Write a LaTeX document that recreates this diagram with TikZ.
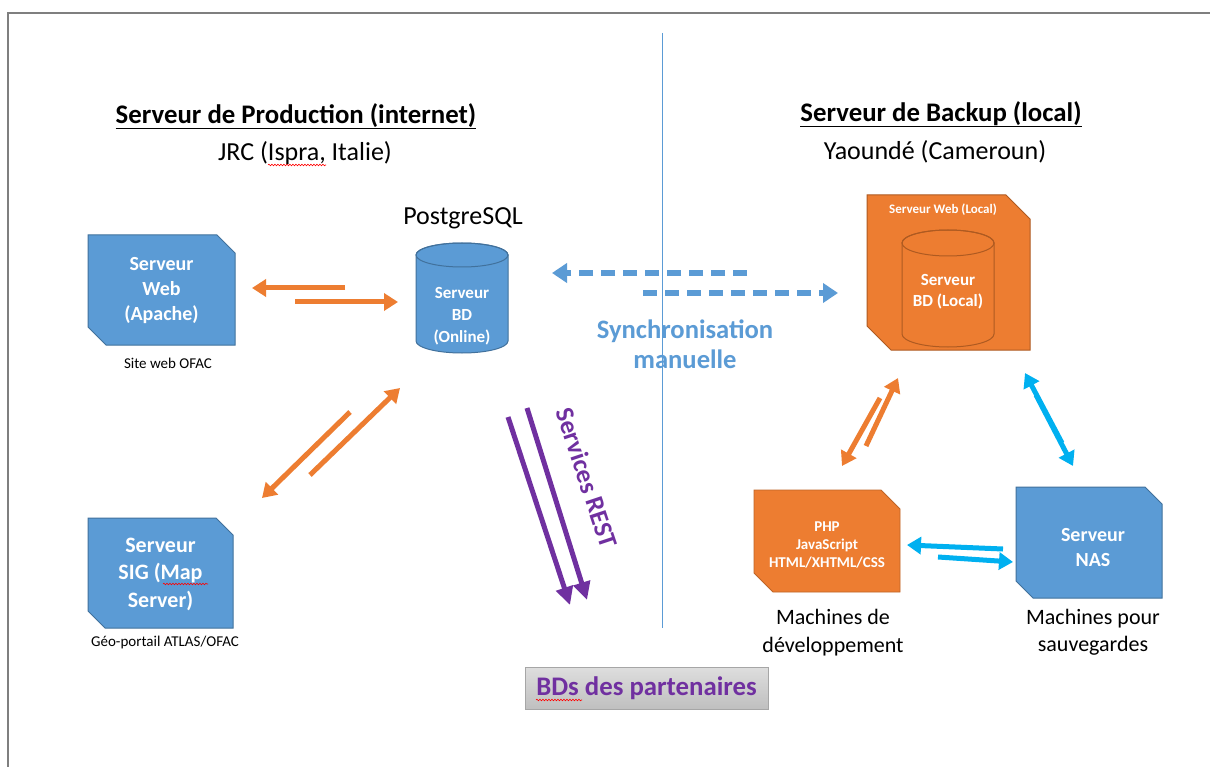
\documentclass[tikz,border=0pt]{standalone}
\usepackage{fontspec}
\setmainfont{Carlito}
\usetikzlibrary{arrows.meta,calc,decorations.pathmorphing}
\pgfdeclarelayer{bg}
\pgfdeclarelayer{mid}
\pgfsetlayers{bg,mid,main}
\definecolor{cblue}{HTML}{5B9BD5}
\definecolor{cblueD}{HTML}{41719C}
\definecolor{corange}{HTML}{ED7D31}
\definecolor{corangeD}{HTML}{AE5A21}
\definecolor{cpurple}{HTML}{7030A0}
\definecolor{ccyan}{HTML}{00B0F0}
\definecolor{cframe}{HTML}{7F7F7F}
\newcommand\setfs[2]{\fontsize{#1}{#2}\selectfont}
\newcommand\snipfill[3]{%
  \begin{pgfonlayer}{bg}
  \path[#3] (#1.north west) -- ([xshift=-#2]#1.north east) -- ([yshift=-#2]#1.north east)
    -- (#1.south east) -- ([xshift=#2]#1.south west) -- ([yshift=#2]#1.south west) -- cycle;
  \end{pgfonlayer}}
\newcommand\cylfill[5]{%
  \begin{pgfonlayer}{mid}
  \path[fill=#4, draw=#5, line width=1pt] ([yshift=-#2]#1.north west) -- ([yshift=#2]#1.south west)
    arc[start angle=180, end angle=360, x radius=#3, y radius=#2]
    -- ([yshift=-#2]#1.north east)
    arc[start angle=0, end angle=180, x radius=#3, y radius=#2] -- cycle;
  \draw[draw=#5, line width=1pt] ([yshift=-#2]#1.north) ellipse[x radius=#3, y radius=#2];
  \end{pgfonlayer}}
\begin{document}
\begin{tikzpicture}[x=1pt,y=-1pt,
  txt/.style={inner sep=0pt, align=center, text=black},
  shapebox/.style={inner sep=0pt, outer sep=0pt, draw=none},
  wtxt/.style={inner sep=0pt, align=center, text=white},
  oarr/.style={draw=corange, line width=5pt, -{Triangle[width=17pt,length=14pt]}},
  carr/.style={draw=ccyan, line width=5pt, -{Triangle[width=17pt,length=14pt]}},
  parr/.style={draw=cpurple, line width=5pt, -{Triangle[width=17pt,length=18pt]}},
  barr/.style={draw=cblue, line width=6pt, dash pattern=on 14pt off 8pt, -{Triangle[width=19pt,length=15pt]}},
  spell/.style={draw=red, line width=0.6pt, decorate, decoration={snake, amplitude=0.8pt, segment length=3pt}}
]
\begin{pgfonlayer}{bg}
\fill[white] (0,0) rectangle (1210,767);
\end{pgfonlayer}
\useasboundingbox (0,0) rectangle (1210,767);
% frame and divider
\draw[cframe, line width=2pt] (8,767) -- (8,13) -- (1210,13);
\draw[cblue, line width=1pt] (662,33) -- (662,628);

% headers
\node[txt, font=\bfseries\setfs{26.8}{30}] (h1) at (296,116) {Serveur de Production (internet)};
\draw[line width=1.6pt] ([yshift=-4.5pt]h1.base west) -- ([yshift=-4.5pt]h1.base east);
\node[txt, font=\setfs{26}{30}] (s1) at (305,153) {JRC (Ispra, Italie)};
\node[txt, font=\bfseries\setfs{26.8}{30}] (h2) at (941,114) {Serveur de Backup (local)};
\draw[line width=1.6pt] ([yshift=-4.5pt]h2.base west) -- ([yshift=-4.5pt]h2.base east);
\node[txt, font=\setfs{26}{30}] (s2) at (935,152) {Yaoundé (Cameroun)};

% web server
\node[shapebox, minimum width=147pt, minimum height=110pt] (web) at (161.5,290) {};
\snipfill{web}{18pt}{fill=cblue, draw=cblueD, line width=1pt}
\node[wtxt, font=\bfseries\setfs{20}{25}] (webt) at (161.5,291) {Serveur\\Web\\(Apache)};
\node[txt, font=\setfs{15}{18}] (webl) at (168,363) {Site web OFAC};

% SIG server
\node[shapebox, minimum width=145pt, minimum height=110pt] (sig) at (160.5,573) {};
\snipfill{sig}{17pt}{fill=cblue, draw=cblueD, line width=1pt}
\node[wtxt, font=\bfseries\setfs{22}{27.5}] (sigt) at (160.5,574) {Serveur\\SIG (Map\\Server)};
\node[txt, font=\setfs{15}{18}] (sigl) at (165,642) {Géo-portail ATLAS/OFAC};

% DB online
\node[shapebox, minimum width=92pt, minimum height=110pt] (db) at (462,298) {};
\cylfill{db}{12pt}{46pt}{cblue}{cblueD}
\node[wtxt, font=\bfseries\setfs{17}{22}] (dbt) at (462,316) {Serveur\\BD\\(Online)};
\node[txt, font=\setfs{26}{30}] (pg) at (463,218) {PostgreSQL};

% local web server
\node[shapebox, minimum width=163pt, minimum height=155pt] (lweb) at (948.5,272.5) {};
\snipfill{lweb}{24pt}{fill=corange, draw=corangeD, line width=1pt}
\node[wtxt, font=\bfseries\setfs{13}{16}] (lwebt) at (943,210) {Serveur Web (Local)};
\node[shapebox, minimum width=92pt, minimum height=117pt] (ldb) at (948,288.5) {};
\cylfill{ldb}{13pt}{46pt}{corange}{corangeD}
\node[wtxt, font=\bfseries\setfs{17}{21}] (ldbt) at (948,292) {Serveur\\BD (Local)};

% dev machines
\node[shapebox, minimum width=146pt, minimum height=102pt] (dev) at (827,541) {};
\snipfill{dev}{19pt}{fill=corange, draw=corange!80!black, line width=0.8pt}
\node[wtxt, font=\bfseries\setfs{15}{18}] (devt) at (827,545) {PHP\\JavaScript\\HTML/XHTML/CSS};
\node[txt, font=\setfs{22}{28}] (devl) at (833,633) {Machines de\\développement};

% NAS
\node[shapebox, minimum width=146pt, minimum height=111pt] (nas) at (1089,542.5) {};
\snipfill{nas}{17pt}{fill=cblue, draw=cblueD, line width=1pt}
\node[wtxt, font=\bfseries\setfs{20}{25}] (nast) at (1093,547.5) {Serveur\\NAS};
\node[txt, font=\setfs{22}{27}] (nasl) at (1093,632.5) {Machines pour\\sauvegardes};

% partners
\node[draw=black!35, top color=black!13, bottom color=black!25, minimum width=243pt, minimum height=42pt,
      inner sep=0pt, text=cpurple, font=\bfseries\setfs{26.8}{30}] (bdp) at (646.5,688) {BDs des partenaires};

% labels
\node[txt, text=cblue, font=\bfseries\setfs{26.6}{30}] (sync) at (685,344) {Synchronisation\\manuelle};
\node[txt, text=cpurple, font=\bfseries\setfs{26}{30}, rotate=-71.5] (rest) at (587,478) {Services REST};

% arrow end coordinates
\coordinate (a1s) at (345,288); \coordinate (a1e) at (252,288);
\coordinate (a2s) at (295,302); \coordinate (a2e) at (398,302);
\coordinate (a3s) at (350,412); \coordinate (a3e) at (262,498);
\coordinate (a4s) at (310,475); \coordinate (a4e) at (400,388);
\coordinate (b1s) at (747,273); \coordinate (b1e) at (552,273);
\coordinate (b2s) at (643,293); \coordinate (b2e) at (838,293);
\coordinate (p1s) at (508,417); \coordinate (p1e) at (570,605);
\coordinate (p2s) at (527,408); \coordinate (p2e) at (587,600);
\coordinate (o1s) at (866,446); \coordinate (o1e) at (898,378);
\coordinate (o2s) at (880,398); \coordinate (o2e) at (842,466);
\coordinate (c1s) at (1062,443); \coordinate (c1e) at (1025,373);
\coordinate (c2s) at (1036,395); \coordinate (c2e) at (1073,466);
\coordinate (c3s) at (1003,549); \coordinate (c3e) at (907,545);
\coordinate (c4s) at (938,557); \coordinate (c4e) at (1013,562);

\draw[oarr] (a1s) -- (a1e);
\draw[oarr] (a2s) -- (a2e);
\draw[oarr] (a3s) -- (a3e);
\draw[oarr] (a4s) -- (a4e);
\draw[barr] (b1s) -- (b1e);
\draw[barr] (b2s) -- (b2e);
\draw[parr] (p1s) -- (p1e);
\draw[parr] (p2s) -- (p2e);
\draw[oarr] (o1s) -- (o1e);
\draw[oarr] (o2s) -- (o2e);
\draw[carr] (c1s) -- (c1e);
\draw[carr] (c2s) -- (c2e);
\draw[carr] (c3s) -- (c3e);
\draw[carr] (c4s) -- (c4e);

% spell-check marks
\draw[spell] (268,165) -- (326,165);
\draw[spell] (163,584) -- (208,584);
\draw[spell] (536,700) -- (582,700);
\end{tikzpicture}
\end{document}
